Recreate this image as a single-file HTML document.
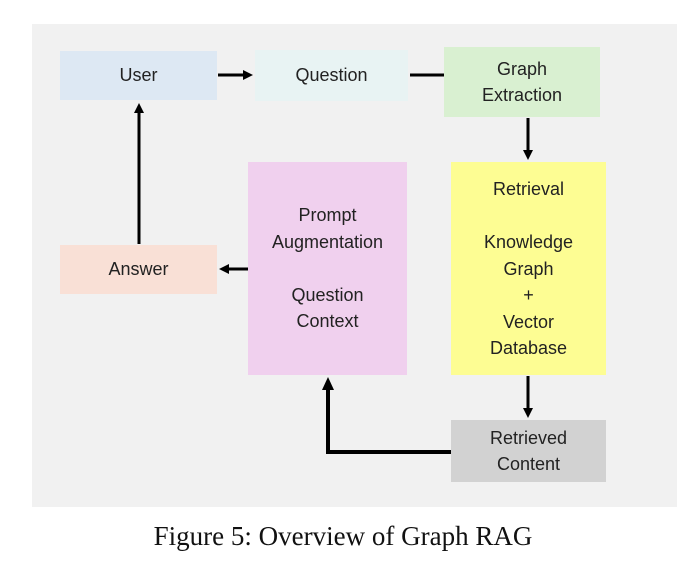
<!DOCTYPE html>
<html><head><style>
body{margin:0;width:686px;height:568px;background:#fff;position:relative;overflow:hidden;font-family:"Liberation Sans",sans-serif}
.bg{position:absolute;left:32px;top:24px;width:645px;height:483px;background:#f1f1f1}
.b{position:absolute;display:flex;align-items:center;justify-content:center;text-align:center;font-size:18px;line-height:26.5px;color:#222}
.cap{position:absolute;left:0;width:686px;top:521px;text-align:center;font-family:"Liberation Serif",serif;font-size:27px;color:#111}
</style></head><body>
<div class="bg"></div>
<div class="b" style="left:60px;top:51px;width:157px;height:49px;background:#dde8f3">User</div>
<div class="b" style="left:255px;top:50px;width:153px;height:51px;background:#e8f3f3">Question</div>
<div class="b" style="left:444px;top:47px;width:156px;height:70px;background:#d9f0d1">Graph<br>Extraction</div>
<div class="b" style="left:248px;top:162px;width:159px;height:213px;background:#f0d0ee">Prompt<br>Augmentation<br><br>Question<br>Context</div>
<div class="b" style="left:451px;top:162px;width:155px;height:213px;background:#fdfd93;align-items:flex-start;padding-top:14px;box-sizing:border-box">Retrieval<br><br>Knowledge<br>Graph<br>+<br>Vector<br>Database</div>
<div class="b" style="left:60px;top:245px;width:157px;height:49px;background:#f9e0d6">Answer</div>
<div class="b" style="left:451px;top:420px;width:155px;height:62px;background:#d2d2d2">Retrieved<br>Content</div>
<svg width="686" height="568" style="position:absolute;left:0;top:0">
<g stroke="#000" stroke-width="3" fill="none">
<line x1="218" y1="75" x2="246" y2="75"/>
<line x1="410" y1="75" x2="444" y2="75"/>
<line x1="528" y1="118" x2="528" y2="152"/>
<line x1="139" y1="244" x2="139" y2="112"/>
<line x1="248" y1="269" x2="228" y2="269"/>
<line x1="528" y1="376" x2="528" y2="410"/>
<polyline points="451,452 328,452 328,388" stroke-width="4"/>
</g>
<g fill="#000">
<polygon points="253,75 243,70 243,80"/>
<polygon points="528,160 523,150 533,150"/>
<polygon points="139,103 134,113 144,113"/>
<polygon points="219,269 229,264 229,274"/>
<polygon points="528,418 523,408 533,408"/>
<polygon points="328,377 322,390 334,390"/>
</g>
</svg>
<div class="cap">Figure 5: Overview of Graph RAG</div>
</body></html>
